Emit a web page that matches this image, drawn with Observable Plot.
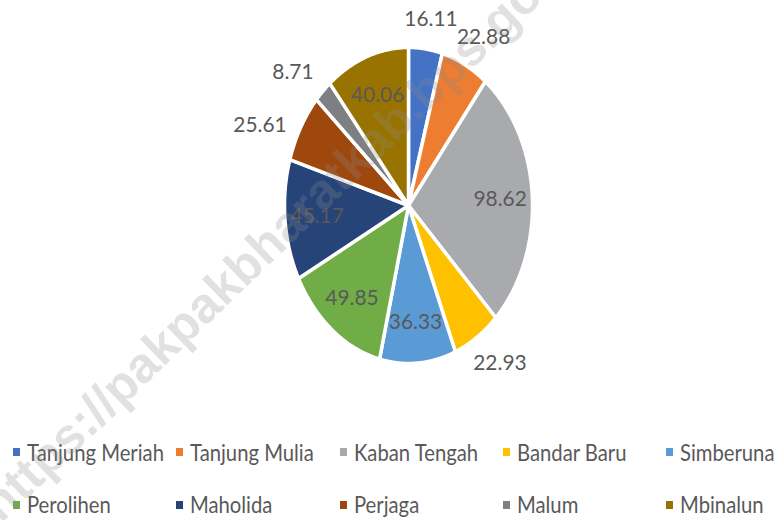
<!DOCTYPE html>
<html><head><meta charset="utf-8">
<script src="https://cdn.jsdelivr.net/npm/d3@7"></script>
<script src="https://cdn.jsdelivr.net/npm/@observablehq/plot@0.6"></script>
<style>
html,body{margin:0;padding:0;background:#fff;}
#wrap{position:relative;width:776px;height:520px;overflow:hidden;}
#chart svg{display:block;}
#legend{position:absolute;left:13px;top:426px;}
#legend > div{display:grid !important;grid-template-columns:repeat(5,163.3px);grid-auto-rows:52.5px;align-items:center;margin:0 !important;font-family:Lato,"Noto Sans",sans-serif !important;font-size:22.5px !important;color:#595959;min-height:0 !important;}
#legend span{display:inline-flex;align-items:center;margin:0 !important;white-space:nowrap;}
#legend span > svg{margin-right:7px !important;flex:none;}
#legend span.lt{display:inline-block;transform:scaleX(0.9);transform-origin:0 50%;}
#wm{position:absolute;left:282px;top:229px;transform:translate(-50%,-50%) rotate(-44deg);font:bold 50px "Liberation Sans",sans-serif;color:rgba(140,140,140,0.26);white-space:nowrap;pointer-events:none;}
</style></head>
<body><div id="wrap"><div id="chart"></div><div id="legend"></div><div id="wm">https://pakpakbharatkab.bps.go.id</div></div>
<script>
const names = ["Tanjung Meriah","Tanjung Mulia","Kaban Tengah","Bandar Baru","Simberuna","Perolihen","Maholida","Perjaga","Malum","Mbinalun"];
const values = [16.11,22.88,98.62,22.93,36.33,49.85,45.17,25.61,8.71,40.06];
const colors = ["#4472C4","#ED7D31","#A9AAAD","#FFC000","#5B9BD5","#70AD47","#264478","#9E480E","#7E7F82","#997300"];

// layout
const RX = 124, RY = 158;              // pie radii in px (ellipse)
const innerR = 0.74, outsideBelow = 30;
const textSquash = 0.95;

const arcs = d3.pie().sort(null).value(d => d)(values);
const slicePts = [];
arcs.forEach((a, i) => {
  slicePts.push({name: names[i], x: 0, y: 0});
  const n = Math.max(2, Math.ceil((a.endAngle - a.startAngle) / 0.01));
  for (let k = 0; k <= n; k++) {
    const t = a.startAngle + (a.endAngle - a.startAngle) * k / n;
    slicePts.push({name: names[i], x: Math.sin(t), y: Math.cos(t)});
  }
});
const clamp01 = v => Math.max(0, Math.min(1, v));
const labels = arcs.map((a, i) => {
  const m = (a.startAngle + a.endAngle) / 2;
  const sx = Math.sin(m), sy = Math.cos(m);
  if (values[i] >= outsideBelow) return {text: values[i].toFixed(2), x: innerR * sx, y: innerR * sy};
  // outside label: offset in pixels from the ellipse edge
  const px = RX * sx, py = RY * sy, len = Math.hypot(px, py);
  const ux = px / len, uy = py / len;
  const ox = 50 * ux;
  const oy = Math.sign(uy) * 30 * clamp01((Math.abs(uy) - 0.55) / 0.4);
  return {text: values[i].toFixed(2), x: sx + ox / RX, y: sy + oy / RY};
});

const plot = Plot.plot({
  width: 776, height: 520,
  marginLeft: 408 - RX, marginRight: 776 - 408 - RX, marginTop: 205 - RY, marginBottom: 520 - 205 - RY,
  x: {domain: [-1, 1], axis: null},
  y: {domain: [-1, 1], axis: null},
  color: {type: "ordinal", domain: names, range: colors},
  style: {background: "white", overflow: "visible"},
  marks: [
    Plot.line(slicePts, {x: "x", y: "y", z: "name", fill: "name", stroke: "white", strokeWidth: 3.5, curve: "linear-closed"}),
    Plot.text(labels, {x: "x", y: "y", text: "text", fill: "#595959", fontSize: 22, fontFamily: "Lato, 'Noto Sans', sans-serif"})
  ]
});
document.getElementById("chart").appendChild(plot);
// narrow the label glyphs horizontally (as in the reference)
plot.querySelectorAll('g[aria-label="text"] text').forEach(el => {
  const t = el.getAttribute("transform");
  if (t) el.setAttribute("transform", t + ` scale(${textSquash},1)`);
  else {
    const x = el.getAttribute("x") || 0, y = el.getAttribute("y") || 0;
    el.setAttribute("transform", `translate(${x},${y}) scale(${textSquash},1)`);
    el.setAttribute("x", 0); el.setAttribute("y", 0);
  }
});

const leg = Plot.legend({color: {type: "ordinal", domain: names, range: colors}, legend: "swatches", swatchWidth: 7, swatchHeight: 8});
document.getElementById("legend").appendChild(leg);
leg.querySelectorAll("span").forEach(sp => {
  [...sp.childNodes].forEach(nd => {
    if (nd.nodeType === 3 && nd.textContent.trim()) {
      const w = document.createElement("span");
      w.className = "lt";
      w.textContent = nd.textContent;
      sp.replaceChild(w, nd);
    }
  });
});
</script>
</body></html>
